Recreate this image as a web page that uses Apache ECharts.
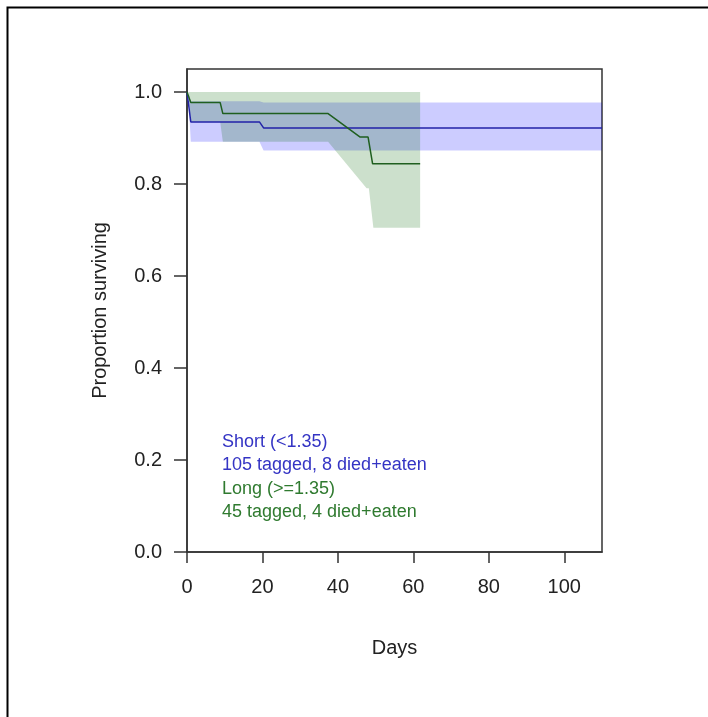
<!DOCTYPE html>
<html>
<head>
<meta charset="utf-8">
<script src="https://cdn.jsdelivr.net/npm/echarts@6/dist/echarts.min.js"></script>
<style>
html,body{margin:0;padding:0;background:#fff;}
#c{width:708px;height:717px;}
</style>
</head>
<body>
<div id="c"></div>
<script>
// ---- data ----
var xTicks = [0, 20, 40, 60, 80, 100];
var yTicks = [0, 0.2, 0.4, 0.6, 0.8, 1.0];

// Short (<1.35): survival curve and confidence band
var shortDays  = [0, 0.3, 1.0, 19.2, 20.3, 110];
var shortSurv  = [1.0, 1.0, 0.935, 0.935, 0.922, 0.922];
var shortUpper = [1.0, 1.0, 0.980, 0.980, 0.977, 0.977];
var shortLower = [1.0, 1.0, 0.892, 0.892, 0.873, 0.873];

// Long (>=1.35): survival curve and confidence band
var longDays  = [0, 0.3, 1.0, 8.8, 9.5, 37.4, 45.9, 48.0, 49.2, 61.8];
var longSurv  = [1.0, 1.0, 0.977, 0.977, 0.953, 0.953, 0.902, 0.902, 0.844, 0.844];
var longUpperDays = [0, 61.8];
var longUpper     = [1.0, 1.0];
var longLowerDays = [0, 0.3, 1.0, 8.8, 9.5, 37.4, 47.6, 48.2, 49.4, 61.8];
var longLower     = [1.0, 1.0, 0.935, 0.935, 0.892, 0.892, 0.791, 0.791, 0.705, 0.705];

var legendLines = [
  {text: 'Short (<1.35)', group: 'short'},
  {text: '105 tagged, 8 died+eaten', group: 'short'},
  {text: 'Long (>=1.35)', group: 'long'},
  {text: '45 tagged, 4 died+eaten', group: 'long'}
];

// ---- styles ----
var FONT = 'Liberation Sans, Arial, sans-serif';
var blueLine = '#2222a8', greenLine = '#1f5f1f';
var blueFill = 'rgba(0,0,255,0.2)', greenFill = 'rgba(0,100,0,0.2)';
var blueText = '#3434c4', greenText = '#2f7a2f';

function pairs(xs, ys){ return xs.map(function(x,i){ return [x, ys[i]]; }); }

function bandSeries(upX, upY, loX, loY, fill, z){
  return {
    type: 'custom',
    z: z,
    silent: true,
    data: [[0, 0]],
    renderItem: function(params, api){
      var pts = [];
      for (var i = 0; i < upX.length; i++) pts.push(api.coord([upX[i], upY[i]]));
      for (var j = loX.length - 1; j >= 0; j--) pts.push(api.coord([loX[j], loY[j]]));
      return { type: 'polygon', shape: { points: pts }, style: { fill: fill, stroke: null } };
    }
  };
}

var chart = echarts.init(document.getElementById('c'), null, {renderer: 'canvas'});

var graphics = [{
  type: 'rect', left: 5, top: 5, silent: true,
  shape: {x: 0, y: 0, width: 760, height: 760},
  style: {fill: 'none', stroke: '#000', lineWidth: 2}, z: 100
}];
legendLines.forEach(function(l, i){
  graphics.push({
    type: 'text', left: 222, top: 433 + i * 23 + (i >= 2 ? 1 : 0),
    style: {text: l.text, fill: l.group === 'short' ? blueText : greenText, font: '18px ' + FONT},
    z: 100
  });
});

chart.setOption({
  animation: false,
  backgroundColor: '#fff',
  grid: {left: 187, right: 106, top: 69, bottom: 165, show: true, borderColor: '#333', borderWidth: 1.5, containLabel: false},
  xAxis: {
    type: 'value', min: 0, max: 110,
    name: 'Days', nameLocation: 'middle', nameGap: 86,
    nameTextStyle: {fontSize: 20, color: '#222', fontFamily: FONT, verticalAlign: 'top'},
    axisLine: {show: true, lineStyle: {color: '#333', width: 1.5}},
    axisTick: {show: true, length: 11, lineStyle: {color: '#333', width: 1.5}, customValues: xTicks},
    axisLabel: {fontSize: 20, color: '#222', fontFamily: FONT, margin: 25, customValues: xTicks},
    splitLine: {show: false}
  },
  yAxis: {
    type: 'value', min: 0, max: 1.05,
    name: 'Proportion surviving', nameLocation: 'middle', nameGap: 77, nameRotate: 90,
    nameTextStyle: {fontSize: 20, color: '#222', fontFamily: FONT},
    axisLine: {show: true, lineStyle: {color: '#333', width: 1.5}},
    axisTick: {show: true, length: 13, lineStyle: {color: '#333', width: 1.5}, customValues: yTicks},
    axisLabel: {fontSize: 20, color: '#222', fontFamily: FONT, margin: 25, customValues: yTicks,
      formatter: function(v){ return v.toFixed(1); }},
    splitLine: {show: false}
  },
  graphic: graphics,
  series: [
    bandSeries(shortDays, shortUpper, shortDays, shortLower, blueFill, 1),
    bandSeries(longUpperDays, longUpper, longLowerDays, longLower, greenFill, 2),
    {type: 'line', data: pairs(shortDays, shortSurv), symbol: 'none', z: 5,
     lineStyle: {color: blueLine, width: 1.5}, silent: true},
    {type: 'line', data: pairs(longDays, longSurv), symbol: 'none', z: 6,
     lineStyle: {color: greenLine, width: 1.5}, silent: true}
  ]
});
</script>
</body>
</html>
